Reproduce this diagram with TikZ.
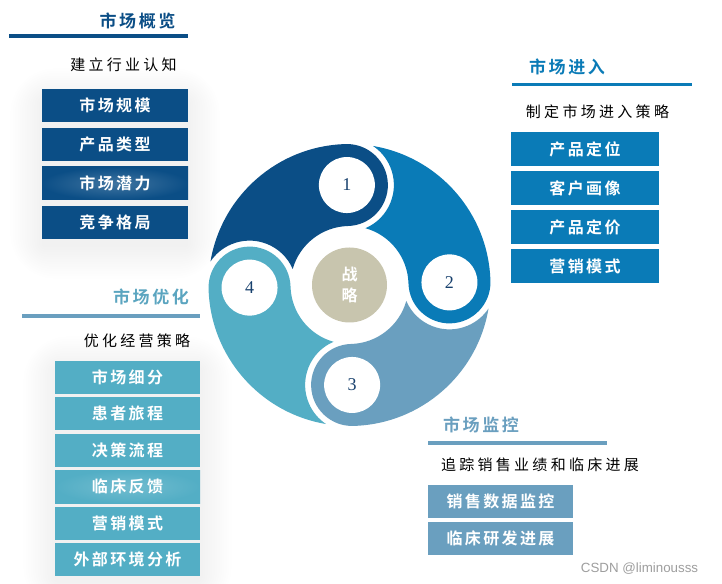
\documentclass[tikz,border=0pt]{standalone}
\usepackage{fontspec}
\newfontfamily\titlefont[LetterSpace=15]{Noto Sans CJK SC Bold}
\newfontfamily\boxfont[LetterSpace=15]{Noto Sans CJK SC Bold}
\newfontfamily\subfont[LetterSpace=22]{Noto Sans CJK SC}
\newfontfamily\numfont{Liberation Serif}
\newfontfamily\wmfont{Liberation Sans}
\definecolor{cA}{HTML}{0B4E86}
\definecolor{cB}{HTML}{0A7BB7}
\definecolor{cC}{HTML}{6A9FBF}
\definecolor{cD}{HTML}{53AEC5}
\definecolor{cTan}{HTML}{C8C5AE}
\definecolor{cNum}{HTML}{17406D}
\definecolor{cAt}{HTML}{5BA5C0}
\newcommand\mySeg[2]{%
 \pgfmathsetmacro\sA{#2+90-11.10}%
 \pgfmathsetmacro\sB{#2-180}%
 \pgfmathsetmacro\sC{#2+90-17.23}%
 \pgfmathsetmacro\sD{#2+90-158.18}%
 \pgfmathsetmacro\sE{#2+90-35.28}%
 \fill[#1] (\sA:141) arc[start angle=\sA, end angle=#2, radius=141]
   arc[start angle=#2, end angle=\sB, radius=41]
   arc[start angle=#2, end angle=\sC, radius=59]
   arc[start angle=\sD, end angle=\sE, radius=47] -- cycle;}
% soft halo: #1,#2 corner1, #3,#4 corner2
\newcommand\myHalo[4]{%
 \foreach \k in {1,...,14}{%
   \fill[black, opacity=0.0036, rounded corners=2.4*\k] (#1-2.4*\k,#2+2.4*\k) rectangle (#3+2.4*\k,#4-2.4*\k);}}
\tikzset{
  box/.style={rectangle, inner sep=0pt, minimum height=24.75pt, text=white, font=\boxfont\fontsize{12pt}{14pt}\selectfont},
  ttl/.style={inner sep=0pt, font=\titlefont\fontsize{12.75pt}{15pt}\selectfont},
  sub/.style={inner sep=0pt, text=black, font=\subfont\fontsize{11.25pt}{13pt}\selectfont},
  rulel/.style={line width=2.4pt},
  numc/.style={circle, fill=white, minimum size=42pt, inner sep=0pt, text=cNum, font=\numfont\fontsize{13.5pt}{15pt}\selectfont},
}
\begin{document}
\begin{tikzpicture}[x=0.75pt,y=0.75pt]
\useasboundingbox (0,0) rectangle (722,-584);
\fill[white] (0,0) rectangle (722,-584);
% halos
\myHalo{44}{-102}{186}{-245}
\myHalo{57}{-370}{198}{-578}
% pinwheel
\begin{scope}[shift={(349.5,-285)}]
  \mySeg{cA}{91.5}
  \mySeg{cB}{1.5}
  \mySeg{cC}{-88.5}
  \mySeg{cD}{181.5}
  \node[numc] (n1) at (91.5:100) {1};
  \node[numc] (n2) at (1.5:100) {2};
  \node[numc] (n3) at (-88.5:100) {3};
  \node[numc] (n4) at (181.5:100) {4};
  \node[circle, fill=cTan, minimum size=56.25pt, inner sep=0pt, text=white, align=center,
        font=\boxfont\fontsize{12pt}{16pt}\selectfont] (core) at (0,0) {战\\略};
\end{scope}
% market overview
\node[ttl, text=cA] (t1) at (137.5,-20.5) {市场概览};
\draw[rulel, cA] (9,-36) -- (188,-36);
\node[sub] (s1) at (123.5,-65) {建立行业认知};
\node[box, fill=cA, minimum width=109.5pt] (a1) at (115,-105.5) {市场规模};
\node[box, fill=cA, minimum width=109.5pt] (a2) at (115,-144.5) {产品类型};
\path[inner color=cA!78!white, outer color=cA] (42,-167) rectangle (188,-200);
\node[box, minimum width=109.5pt] (a3) at (115,-183.5) {市场潜力};
\node[box, fill=cA, minimum width=109.5pt] (a4) at (115,-222.5) {竞争格局};
% market entry
\node[ttl, text=cB] (t2) at (567,-66.5) {市场进入};
\draw[rulel, cB] (512,-84.5) -- (692,-84.5);
\node[sub] (s2) at (597.5,-112) {制定市场进入策略};
\node[box, fill=cB, minimum width=111pt, minimum height=25.5pt] (b1) at (585,-149.5) {产品定位};
\node[box, fill=cB, minimum width=111pt, minimum height=25.5pt] (b2) at (585,-188.5) {客户画像};
\node[box, fill=cB, minimum width=111pt, minimum height=25.5pt] (b3) at (585,-227.5) {产品定价};
\node[box, fill=cB, minimum width=111pt, minimum height=25.5pt] (b4) at (585,-266.5) {营销模式};
% market optimisation
\node[ttl, text=cAt] (t4) at (151,-296.5) {市场优化};
\draw[rulel, cC] (22,-316) -- (200,-316);
\node[sub] (s4) at (137,-341) {优化经营策略};
\node[box, fill=cD, minimum width=108.75pt] (d1) at (127.5,-377.5) {市场细分};
\node[box, fill=cD, minimum width=108.75pt] (d2) at (127.5,-413.9) {患者旅程};
\node[box, fill=cD, minimum width=108.75pt] (d3) at (127.5,-450.3) {决策流程};
\path[inner color=cD!82!white, outer color=cD] (55,-470.2) rectangle (200,-503.2);
\node[box, minimum width=108.75pt] (d4) at (127.5,-486.7) {临床反馈};
\node[box, fill=cD, minimum width=108.75pt] (d5) at (127.5,-523.1) {营销模式};
\node[box, fill=cD, minimum width=108.75pt] (d6) at (127.5,-559.5) {外部环境分析};
% market monitoring
\node[ttl, text=cC] (t3) at (481,-425) {市场监控};
\draw[rulel, cC] (428,-443) -- (607,-443);
\node[sub] (s3) at (540,-465) {追踪销售业绩和临床进展};
\node[box, fill=cC, minimum width=108.75pt] (c1) at (500.5,-501.5) {销售数据监控};
\node[box, fill=cC, minimum width=108.75pt] (c2) at (500.5,-538.5) {临床研发进展};
% watermark
\node[inner sep=0pt, text=black!38, font=\wmfont\fontsize{10pt}{12pt}\selectfont] (wm) at (639.5,-569) {CSDN @liminousss};
\end{tikzpicture}
\end{document}
